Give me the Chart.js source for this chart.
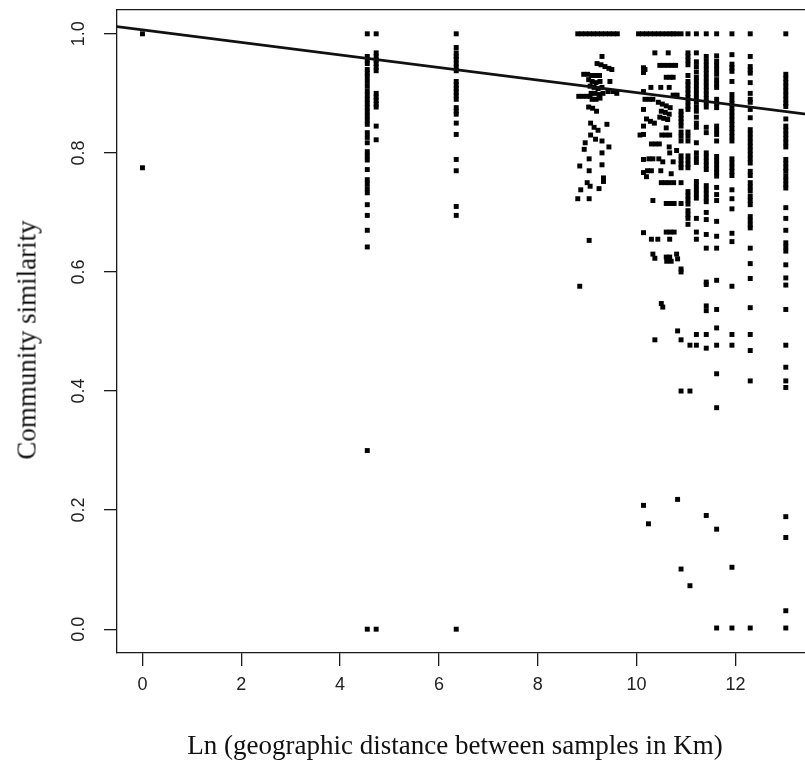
<!DOCTYPE html>
<html>
<head>
<meta charset="utf-8">
<title>Community similarity vs distance</title>
<script src="https://cdn.jsdelivr.net/npm/chart.js@4.4.1/dist/chart.umd.min.js"></script>
<style>
  html, body { margin:0; padding:0; background:#fff; overflow:hidden; width:805px; height:778px; }
  #wrap { position:relative; width:816px; height:778px; }
  .ttl { position:absolute; font-family:"Liberation Serif","Times New Roman",serif; font-size:27px; color:#111; white-space:nowrap; line-height:1; }
  #xTitle { left:455px; top:745px; transform:translate(-50%,-50%); }
  #yTitle { left:27px; top:340px; transform:translate(-50%,-50%) rotate(-90deg); }
</style>
</head>
<body>
<div id="wrap">
  <canvas id="chart"></canvas>
  <div class="ttl" id="yTitle">Community similarity</div>
  <div class="ttl" id="xTitle">Ln (geographic distance between samples in Km)</div>
</div>
<script>
/* ── Axis ticks ── */
const xTicks = [0, 2, 4, 6, 8, 10, 12];
const yTicks = [0, 0.2, 0.4, 0.6, 0.8, 1.0];

/* ── Regression line (ends beyond the plot, clipped) ── */
const fitX = [-0.52, 13.6];
const fitY = [1.012, 0.8632];

/* ── Points that share one distance (vertical columns) ── */
const columnX = [0, 4.55, 4.73, 6.35, 10.14, 10.90, 11.04, 11.08, 11.21, 11.41, 11.62, 11.93, 12.30, 13.02];
const columnY = [
  [1.0, 0.775],
  [1.0, 0.962, 0.956, 0.95, 0.94, 0.934, 0.928, 0.92, 0.912, 0.904, 0.897, 0.89, 0.883, 0.876, 0.869, 0.862, 0.855, 0.848,
   0.834, 0.826, 0.817, 0.802, 0.795, 0.788, 0.772, 0.755, 0.748, 0.74, 0.733, 0.713, 0.695, 0.67, 0.642, 0.30, 0.0],
  [1.0, 0.968, 0.962, 0.956, 0.95, 0.944, 0.938, 0.90, 0.894, 0.888, 0.882, 0.877, 0.845, 0.822, 0.0],
  [1.0, 0.977, 0.968, 0.962, 0.957, 0.95, 0.944, 0.938, 0.92, 0.914, 0.908, 0.902, 0.896, 0.89, 0.876, 0.87, 0.865,
   0.85, 0.831, 0.789, 0.77, 0.71, 0.695, 0.0],
  [0.943, 0.935, 0.903, 0.873, 0.845, 0.831, 0.789, 0.767, 0.666, 0.208],
  [1.0, 0.87, 0.864, 0.858, 0.852, 0.845, 0.835, 0.828, 0.82, 0.795, 0.788, 0.781, 0.775, 0.75, 0.715, 0.605, 0.60, 0.486, 0.40, 0.101],
  [1.0, 0.968, 0.962, 0.955, 0.948, 0.93, 0.92, 0.914, 0.907, 0.9, 0.893, 0.886, 0.879, 0.873, 0.835, 0.828, 0.82,
   0.795, 0.788, 0.781, 0.775, 0.735, 0.728, 0.721, 0.714, 0.703, 0.696, 0.69, 0.68],
  [0.477, 0.40, 0.073],
  [1.0, 0.968, 0.953, 0.945, 0.936, 0.927, 0.92, 0.913, 0.906, 0.899, 0.892, 0.885, 0.877, 0.87, 0.86, 0.85, 0.843,
   0.817, 0.80, 0.792, 0.784, 0.752, 0.745, 0.738, 0.731, 0.724, 0.69, 0.667, 0.655, 0.495, 0.477],
  [1.0, 0.962, 0.954, 0.947, 0.94, 0.933, 0.926, 0.919, 0.912, 0.905, 0.898, 0.891, 0.884, 0.877, 0.843, 0.834,
   0.80, 0.793, 0.786, 0.779, 0.772, 0.745, 0.738, 0.731, 0.724, 0.718, 0.70, 0.688, 0.663, 0.64, 0.583, 0.579,
   0.543, 0.535, 0.495, 0.472, 0.191],
  [1.0, 0.963, 0.954, 0.947, 0.94, 0.932, 0.923, 0.916, 0.91, 0.89, 0.883, 0.876, 0.845, 0.838, 0.831, 0.82, 0.794,
   0.787, 0.78, 0.773, 0.767, 0.761, 0.742, 0.73, 0.72, 0.685, 0.66, 0.64, 0.586, 0.537, 0.506, 0.477, 0.429,
   0.372, 0.168, 0.002],
  [1.0, 0.965, 0.949, 0.943, 0.937, 0.92, 0.898, 0.89, 0.883, 0.876, 0.869, 0.862, 0.855, 0.848, 0.841, 0.834, 0.827,
   0.82, 0.79, 0.783, 0.776, 0.769, 0.762, 0.738, 0.723, 0.706, 0.665, 0.651, 0.576, 0.495, 0.477, 0.104, 0.002],
  [1.0, 0.962, 0.945, 0.939, 0.934, 0.918, 0.90, 0.89, 0.885, 0.873, 0.859, 0.839, 0.832, 0.825, 0.818, 0.811, 0.804,
   0.797, 0.79, 0.783, 0.769, 0.762, 0.75, 0.743, 0.736, 0.727, 0.72, 0.713, 0.693, 0.686, 0.679, 0.674, 0.64,
   0.614, 0.589, 0.54, 0.495, 0.468, 0.417, 0.002],
  [1.0, 0.932, 0.925, 0.918, 0.911, 0.904, 0.897, 0.89, 0.883, 0.878, 0.857, 0.845, 0.838, 0.831, 0.824, 0.817, 0.81,
   0.789, 0.782, 0.775, 0.769, 0.761, 0.754, 0.747, 0.741, 0.708, 0.69, 0.67, 0.649, 0.642, 0.635, 0.612, 0.59,
   0.578, 0.537, 0.477, 0.44, 0.417, 0.406, 0.189, 0.154, 0.031, 0.002]
];

/* ── Run of pairs with similarity 1.0 ── */
const topRowX = [8.81, 8.89, 8.97, 9.05, 9.13, 9.21, 9.29, 9.37, 9.45, 9.53, 9.61,
                 10.04, 10.12, 10.20, 10.28, 10.36, 10.44, 10.52, 10.60, 10.68, 10.74, 10.81];

/* ── Cloud around ln(d) ≈ 9 ── */
const clusterX = [9.30, 9.20, 9.28, 9.36, 9.44, 9.50, 8.93, 9.01, 9.09, 9.17, 9.25, 9.46, 9.03, 9.10, 9.18, 9.26,
  9.06, 9.14, 9.22, 9.30, 9.08, 9.16, 9.24, 9.32, 9.10, 9.18, 9.26, 8.83, 8.91, 8.99, 9.06, 9.42, 9.52, 9.60,
  9.03, 9.11, 9.19, 9.07, 9.40, 9.14, 9.22, 9.07, 9.17, 9.30, 8.96, 8.94, 9.44, 9.30, 9.04, 9.30, 8.85, 9.04,
  9.33, 9.33, 9.00, 8.87, 9.06, 9.24, 8.81, 9.04, 9.04, 8.85];
const clusterY = [0.962, 0.950, 0.948, 0.945, 0.942, 0.940, 0.932, 0.932, 0.930, 0.930, 0.930, 0.920, 0.923, 0.920, 0.918, 0.920,
  0.912, 0.910, 0.908, 0.910, 0.900, 0.900, 0.898, 0.900, 0.890, 0.890, 0.892, 0.895, 0.895, 0.895, 0.895, 0.903, 0.903, 0.900,
  0.877, 0.875, 0.870, 0.850, 0.848, 0.843, 0.838, 0.830, 0.823, 0.820, 0.817, 0.806, 0.810, 0.800, 0.790, 0.780, 0.778, 0.770,
  0.752, 0.758, 0.750, 0.738, 0.744, 0.740, 0.723, 0.723, 0.653, 0.576];

/* ── Scattered points between ln(d) 10 and 11 ── */
const spreadX = [10.37, 10.64, 10.17, 10.47, 10.55, 10.63, 10.71, 10.79, 10.60, 10.68,
  10.74, 10.29, 10.49, 10.66, 10.74, 10.82, 10.17, 10.26, 10.33, 10.44,
  10.52, 10.60, 10.68, 10.50, 10.58, 10.66, 10.20, 10.28, 10.36, 10.47,
  10.55, 10.63, 10.60, 10.07, 10.51, 10.59, 10.67, 10.30, 10.38, 10.46,
  10.66, 10.81, 10.67, 10.25, 10.33, 10.45, 10.53, 10.74, 10.22, 10.30,
  10.49, 10.20, 10.70, 10.50, 10.58, 10.66, 10.75, 10.33, 10.60, 10.68,
  10.76, 10.60, 10.68, 10.76, 10.30, 10.43, 10.67, 10.33, 10.60, 10.67,
  10.81, 10.37, 10.61, 10.70, 10.83, 10.50, 10.53, 10.83, 10.37, 10.83,
  10.24];
const spreadY = [0.968, 0.968, 0.940, 0.947, 0.947, 0.947, 0.947, 0.947, 0.927, 0.927,
  0.927, 0.910, 0.910, 0.910, 0.897, 0.897, 0.890, 0.890, 0.890, 0.885,
  0.882, 0.879, 0.876, 0.870, 0.868, 0.865, 0.857, 0.853, 0.850, 0.860,
  0.858, 0.856, 0.842, 0.830, 0.830, 0.830, 0.830, 0.815, 0.815, 0.815,
  0.810, 0.804, 0.800, 0.790, 0.790, 0.790, 0.785, 0.785, 0.770, 0.770,
  0.770, 0.760, 0.765, 0.750, 0.750, 0.750, 0.750, 0.720, 0.715, 0.715,
  0.715, 0.667, 0.667, 0.667, 0.655, 0.655, 0.655, 0.630, 0.625, 0.625,
  0.630, 0.623, 0.618, 0.618, 0.622, 0.547, 0.541, 0.501, 0.486, 0.218,
  0.177];

/* ── Build point list ── */
const points = [];
columnX.forEach((cx, i) => columnY[i].forEach(v => points.push({x: cx, y: v})));
topRowX.forEach(v => points.push({x: v, y: 1.0}));
clusterX.forEach((v, i) => points.push({x: v, y: clusterY[i]}));
spreadX.forEach((v, i) => points.push({x: v, y: spreadY[i]}));
const fitLine = fitX.map((v, i) => ({x: v, y: fitY[i]}));

const INK = '#1a1a1a';
const tickFont = {family: '"Liberation Sans", Arial, sans-serif', size: 18};

// keep the plot box fixed: no extra room for label overhang
function noPad(s) { s.paddingTop = 0; s.paddingBottom = 0; s.paddingLeft = 0; s.paddingRight = 0; }

new Chart(document.getElementById('chart'), {
  type: 'scatter',
  data: {
    datasets: [
      {
        type: 'line',
        data: fitLine,
        borderColor: '#111',
        borderWidth: 2.7,
        pointRadius: 0,
        fill: false,
        clip: 0,
        xAxisID: 'x',
        yAxisID: 'y'
      },
      {
        data: points,
        pointStyle: 'rect',
        pointRadius: 3.5,
        pointBorderWidth: 0,
        backgroundColor: '#000',
        borderColor: '#000',
        xAxisID: 'x',
        yAxisID: 'y'
      }
    ]
  },
  options: {
    responsive: true,
    maintainAspectRatio: false,
    animation: false,
    events: [],
    layout: {padding: 0},
    plugins: {legend: {display: false}, tooltip: {enabled: false}},
    scales: {
      x: {
        type: 'linear',
        position: 'bottom',
        min: -0.515,
        max: 13.55,
        afterBuildTicks: s => { s.ticks = xTicks.map(v => ({value: v})); },
        afterFit: s => { s.height = 125; noPad(s); },
        grid: {drawOnChartArea: false, drawTicks: true, tickLength: 13, color: INK, lineWidth: 1.3},
        border: {display: true, color: INK, width: 1.3},
        ticks: {color: '#222', font: tickFont, padding: 8, maxRotation: 0, autoSkip: false, callback: v => String(v)}
      },
      xTop: {
        type: 'linear',
        position: 'top',
        min: -0.515,
        max: 13.55,
        afterFit: s => { s.height = 10; noPad(s); },
        grid: {display: false, drawTicks: false},
        border: {display: true, color: INK, width: 1.3},
        ticks: {display: false}
      },
      y: {
        type: 'linear',
        min: -0.04,
        max: 1.04,
        afterBuildTicks: s => { s.ticks = yTicks.map(v => ({value: v})); },
        afterFit: s => { s.width = 117; noPad(s); },
        grid: {drawOnChartArea: false, drawTicks: true, tickLength: 13, color: INK, lineWidth: 1.3},
        border: {display: true, color: INK, width: 1.3},
        ticks: {color: '#222', font: tickFont, padding: 12, minRotation: 90, maxRotation: 90,
                crossAlign: 'center', autoSkip: false, callback: v => v.toFixed(1)}
      }
    }
  }
});
</script>
</body>
</html>
